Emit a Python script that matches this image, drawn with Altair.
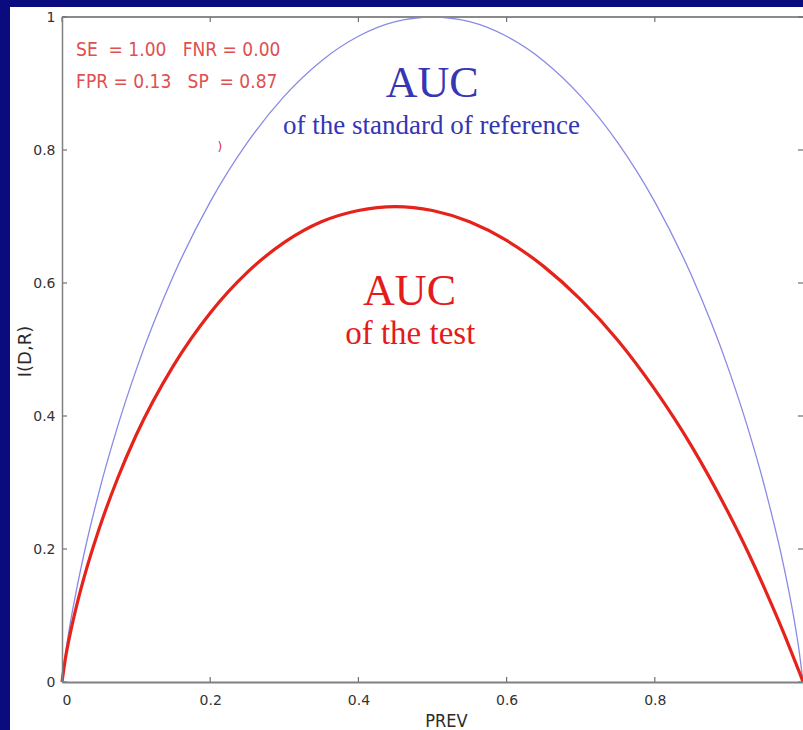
import altair as alt
import pandas as pd

# ---- data ----
prev = [0, 0.005, 0.01, 0.02, 0.03, 0.05, 0.075, 0.1, 0.15, 0.2, 0.25, 0.3, 0.35, 0.4, 0.45,
        0.5, 0.55, 0.6, 0.65, 0.7, 0.75, 0.8, 0.85, 0.9, 0.925, 0.95, 0.975, 0.99, 0.995, 1.0]
reference_vals = [0, 0.045, 0.081, 0.141, 0.194, 0.286, 0.384, 0.469, 0.610, 0.722, 0.811, 0.881,
                  0.934, 0.971, 0.993, 1.0, 0.993, 0.971, 0.934, 0.881, 0.811, 0.722, 0.610,
                  0.469, 0.384, 0.286, 0.169, 0.081, 0.045, 0]
test_vals = [0, 0.038, 0.067, 0.116, 0.158, 0.230, 0.306, 0.371, 0.475, 0.555, 0.616, 0.661,
             0.692, 0.709, 0.715, 0.709, 0.692, 0.664, 0.625, 0.575, 0.514, 0.440, 0.354,
             0.253, 0.197, 0.136, 0.071, 0.029, 0.015, 0]
series_names = ["reference", "test"]
series_colors = ["#8a8ae6", "#e5231b"]
x_ticks = [0, 0.2, 0.4, 0.6, 0.8]
y_ticks = [0, 0.2, 0.4, 0.6, 0.8, 1]
NB = "\u00a0"
stats_lines = ["SE" + NB * 2 + "= 1.00" + NB * 2 + " FNR = 0.00",
               "FPR = 0.13" + NB * 2 + " SP" + NB * 2 + "= 0.87"]

W, H = 741, 665

rows = []
for p, r, t in zip(prev, reference_vals, test_vals):
    rows.append({"prev": p, "value": r, "series": "reference"})
    rows.append({"prev": p, "value": t, "series": "test"})
df = pd.DataFrame(rows)

xs = alt.Scale(domain=[0, 1], nice=False, zero=False)
ys = alt.Scale(domain=[0, 1], nice=False, zero=False)
lab = "datum.value == 0 ? '0' : datum.value == 1 ? '1' : format(datum.value, '.1f')"
COND = "DejaVu Sans Condensed, DejaVu Sans, sans-serif"

one = pd.DataFrame({"a": [0]})
panel = alt.Chart(one).mark_rect(color="white").encode(
    x=alt.value(-52), x2=alt.value(W + 5), y=alt.value(-10), y2=alt.value(H + 60))

top_border = alt.Chart(one).mark_rule(color="#8a8a8a", strokeWidth=2).encode(
    x=alt.value(0), x2=alt.value(W + 2), y=alt.value(0))

lines = alt.Chart(df).mark_line(interpolate="monotone").encode(
    x=alt.X("prev:Q", scale=xs, axis=alt.Axis(
        values=x_ticks, labelExpr=lab, ticks=False, grid=False,
        domainColor="#808080", domainWidth=2, labelFont="DejaVu Sans", labelFontSize=14,
        labelColor="#333333", labelPadding=11, title="PREV", titleX=384, titleY=44,
        titleBaseline="alphabetic", titleAlign="center", titleFont=COND,
        titleFontSize=18, titleFontWeight="normal", titleColor="#2a2a2a", zindex=1)),
    y=alt.Y("value:Q", scale=ys, axis=alt.Axis(
        values=y_ticks, labelExpr=lab, ticks=False, grid=False,
        domainColor="#808080", domainWidth=1.5, labelFont="DejaVu Sans", labelFontSize=14,
        labelColor="#333333", labelPadding=7, title="I(D,R)", titleX=-37, titleY=334,
        titleAngle=-90, titleBaseline="middle", titleAlign="center", titleFont="DejaVu Sans",
        titleFontSize=18, titleFontWeight="normal", titleColor="#2a2a2a", zindex=1)),
    color=alt.Color("series:N", scale=alt.Scale(domain=series_names, range=series_colors), legend=None),
    strokeWidth=alt.StrokeWidth("series:N", scale=alt.Scale(domain=series_names, range=[1.3, 3.2]), legend=None),
)

xt = pd.DataFrame({"prev": x_ticks})
yt = pd.DataFrame({"value": y_ticks})
tick_style = dict(color="#707070", strokeWidth=1.2)
xtick_bottom = alt.Chart(xt).mark_rule(**tick_style).encode(x="prev:Q", y=alt.value(H), y2=alt.value(H - 5))
xtick_top = alt.Chart(xt).mark_rule(**tick_style).encode(x="prev:Q", y=alt.value(0), y2=alt.value(5))
ytick_left = alt.Chart(yt).mark_rule(**tick_style).encode(y="value:Q", x=alt.value(0), x2=alt.value(5))
ytick_right = alt.Chart(yt).mark_rule(**tick_style).encode(y="value:Q", x=alt.value(W), x2=alt.value(W - 5))

stats = alt.Chart(pd.DataFrame({"prev": [0.019, 0.019], "value": [0.951, 0.903], "label": stats_lines})).mark_text(
    align="left", baseline="middle", font=COND, fontSize=19, color="#e05050"
).encode(x="prev:Q", y="value:Q", text="label:N")

mark_artifact = alt.Chart(pd.DataFrame({"prev": [0.213], "value": [0.804], "label": [")"]})).mark_text(
    align="center", baseline="middle", font="DejaVu Sans", fontSize=12, color="#e03030"
).encode(x="prev:Q", y="value:Q", text="label:N")

def serif_text(label, p, v, size, color):
    return alt.Chart(pd.DataFrame({"prev": [p], "value": [v], "label": [label]})).mark_text(
        align="center", baseline="alphabetic", font="Liberation Serif", fontSize=size, color=color
    ).encode(x="prev:Q", y="value:Q", text="label:N")

t1 = serif_text("AUC", 0.4995, 0.879, 44, "#3535b5")
t2 = serif_text("of the standard of reference", 0.4987, 0.824, 27, "#3535b5")
t3 = serif_text("AUC", 0.469, 0.567, 44, "#e31b1b")
t4 = serif_text("of the test", 0.47, 0.508, 33, "#e31b1b")

chart = alt.layer(
    panel, lines, top_border, xtick_bottom, xtick_top, ytick_left, ytick_right,
    stats, mark_artifact, t1, t2, t3, t4
).properties(
    width=W, height=H, autosize=alt.AutoSizeParams(type="none"),
    padding={"left": 62, "top": 17, "right": 0, "bottom": 48},
    background="#0b0b80",
).configure_view(stroke=None)

chart.save("out.html", embed_options={"renderer": "svg", "actions": False})
